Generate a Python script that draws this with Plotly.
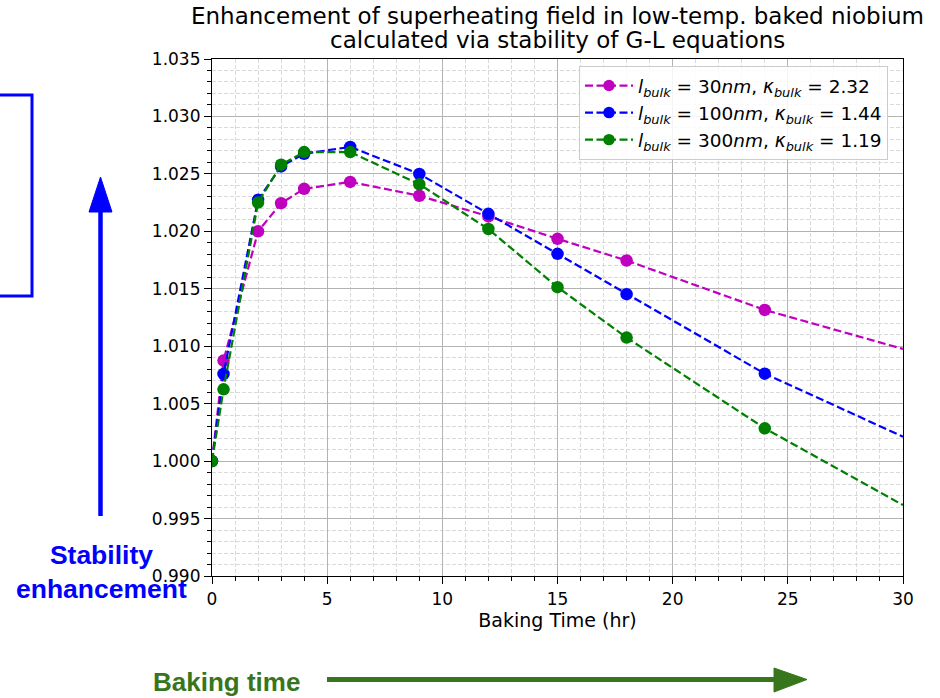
import plotly.graph_objects as go

# ---- data ----
hours = [0, 0.5, 2, 3, 4, 6, 9, 12, 15, 18, 24, 30]
h_30nm = [1.0000, 1.00875, 1.0200, 1.02245, 1.0237, 1.0243, 1.0231, 1.0213, 1.01935, 1.01746, 1.01316, 1.00976]
h_100nm = [1.0000, 1.00759, 1.02274, 1.02565, 1.02675, 1.02735, 1.0250, 1.02152, 1.01804, 1.01453, 1.00761, 1.00213]
h_300nm = [1.0000, 1.00625, 1.0225, 1.0258, 1.0269, 1.0269, 1.0241, 1.0202, 1.01514, 1.01075, 1.00285, 0.99617]
names = [
    "<i>l</i><sub><i>bulk</i></sub> = 30<i>nm</i>, <i>κ</i><sub><i>bulk</i></sub> = 2.32",
    "<i>l</i><sub><i>bulk</i></sub> = 100<i>nm</i>, <i>κ</i><sub><i>bulk</i></sub> = 1.44",
    "<i>l</i><sub><i>bulk</i></sub> = 300<i>nm</i>, <i>κ</i><sub><i>bulk</i></sub> = 1.19",
]
title_lines = ["Enhancement of superheating field in low-temp. baked niobium",
               "calculated via stability of G-L equations"]
colors = ["#bf00bf", "#0000ff", "#008000"]
# last sample lies on the frame edge and carries no marker
marker_sizes = [12.5] * 11 + [0]

W, H = 940, 698
L, R, T, B = 212, 903, 59, 576  # plot area, page pixels


def px(x):
    return (x - L) / (R - L)


def py(y):
    return (B - y) / (B - T)


fig = go.Figure()
for ys, nm, c in zip([h_30nm, h_100nm, h_300nm], names, colors):
    fig.add_trace(go.Scatter(
        x=hours, y=ys, name=nm, mode="lines+markers",
        line=dict(color=c, width=2.2, dash="8px,3.5px"),
        marker=dict(color=c, size=marker_sizes, opacity=1, line=dict(width=0)),
    ))

font = "DejaVu Sans, Arial, sans-serif"
axis_common = dict(
    showline=True, linecolor="black", linewidth=1.2, mirror=True,
    ticks="outside", ticklen=7, tickcolor="black", tickwidth=1.2,
    showgrid=True, gridcolor="#b3b3b3", gridwidth=1.3,
    zeroline=False,
    tickfont=dict(family=font, size=17, color="black"),
)
minor_common = dict(ticks="outside", ticklen=3.5, tickcolor="black", tickwidth=1,
                    showgrid=True, gridcolor="#d9d9d9", griddash="4px,2px", gridwidth=1)
fig.update_xaxes(
    range=[0, 30], dtick=5, tick0=0,
    title=dict(text="Baking Time (hr)", font=dict(family=font, size=19, color="black"), standoff=6),
    minor=dict(dtick=1, **minor_common),
    **axis_common,
)
fig.update_yaxes(
    range=[0.990, 1.035], dtick=0.005, tick0=0.990, tickformat=".3f",
    minor=dict(dtick=0.001, **minor_common),
    **axis_common,
)

shapes = []
# blue bracket at far left
shapes.append(dict(type="path", xref="paper", yref="paper",
                   path=f"M {px(-2)} {py(95)} L {px(32)} {py(95)} L {px(32)} {py(296)} L {px(-2)} {py(296)}",
                   line=dict(color="#0000ff", width=3)))
# vertical blue arrow
shapes.append(dict(type="line", xref="paper", yref="paper",
                   x0=px(100.5), x1=px(100.5), y0=py(516), y1=py(205),
                   line=dict(color="#0000ff", width=4.5)))
shapes.append(dict(type="path", xref="paper", yref="paper",
                   path=f"M {px(89)} {py(212)} L {px(112)} {py(212)} L {px(100.5)} {py(177)} Z",
                   fillcolor="#0000ff", line=dict(color="#0000ff", width=1)))
# horizontal green arrow
shapes.append(dict(type="line", xref="paper", yref="paper",
                   x0=px(327), x1=px(780), y0=py(679.5), y1=py(679.5),
                   line=dict(color="#38761d", width=5)))
shapes.append(dict(type="path", xref="paper", yref="paper",
                   path=f"M {px(774)} {py(668)} L {px(774)} {py(692)} L {px(807)} {py(679.5)} Z",
                   fillcolor="#38761d", line=dict(color="#38761d", width=1)))

annotations = [
    dict(text="<b>Stability<br>enhancement</b>", xref="paper", yref="paper",
         x=px(101), y=py(572), xanchor="center", yanchor="middle", showarrow=False,
         font=dict(family="Liberation Sans, Arial, sans-serif", size=26.5, color="#0000ff")),
    dict(text="<b>Baking time</b>", xref="paper", yref="paper",
         x=px(226), y=py(682), xanchor="center", yanchor="middle", showarrow=False,
         font=dict(family="Liberation Sans, Arial, sans-serif", size=26, color="#38761d")),
    dict(text=title_lines[0], xref="paper", yref="paper",
         x=0.5, y=py(16), xanchor="center", yanchor="middle", showarrow=False,
         font=dict(family=font, size=23, color="black")),
    dict(text=title_lines[1], xref="paper", yref="paper",
         x=0.5, y=py(40), xanchor="center", yanchor="middle", showarrow=False,
         font=dict(family=font, size=23, color="black")),
]

fig.update_layout(
    width=W, height=H,
    margin=dict(l=L, r=W - R, t=T, b=H - B),
    paper_bgcolor="white", plot_bgcolor="white",
    legend=dict(x=px(579), y=py(66), xanchor="left", yanchor="top",
                bgcolor="rgba(255,255,255,0.85)", bordercolor="#cccccc", borderwidth=1,
                itemwidth=48,
                font=dict(family=font, size=18.5, color="black"), tracegroupgap=0),
    shapes=shapes, annotations=annotations,
    showlegend=True,
)

# the page has no body margin, so the figure sits at the window's top-left corner
fig.write_html("out.html", config={"displayModeBar": False},
               post_script="document.body.style.margin='0px';document.body.style.overflow='hidden';")
